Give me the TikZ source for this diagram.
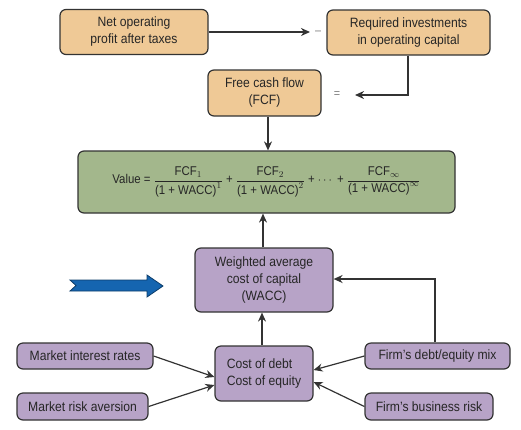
\documentclass[tikz,border=0pt]{standalone}
\usepackage{amsmath}
\usepackage{fontspec}
\setmainfont{Liberation Sans}[FakeStretch=0.9]
\usetikzlibrary{arrows.meta}
\definecolor{tan}{HTML}{EFC996}
\definecolor{sage}{HTML}{A3B78C}
\definecolor{lilac}{HTML}{B7A3C7}
\definecolor{edge}{HTML}{333333}
\definecolor{navy}{HTML}{1565B0}
\begin{document}
\begin{tikzpicture}[x=1pt,y=-1pt,
  box/.style={draw=edge,line width=1.2pt,rounded corners=6pt,align=center,
    inner sep=0pt,text=black!85,font=\fontsize{13.5}{17}\selectfont},
  flow/.style={draw=edge,line width=1.2pt,-{Stealth[length=9pt,width=8pt]}},
  sign/.style={inner sep=0pt,font=\fontsize{12}{13}\selectfont,text=gray}]
\useasboundingbox (0,0) rectangle (521,429);
% top row
\node[box,fill=tan,minimum width=148pt,minimum height=45pt] (nopat) at (134,32) {Net operating\\profit after taxes};
\node[box,fill=tan,minimum width=163pt,minimum height=45pt] (invest) at (408.5,32.5) {Required investments\\in operating capital};
\node[sign] (minus) at (318,33) {–};
\coordinate (minusin) at (310,32);
\node[box,fill=tan,minimum width=113pt,minimum height=46pt] (fcf) at (264.5,93) {Free cash flow\\(FCF)};
\node[sign] (equals) at (337,95) {=};
\coordinate (equalsin) at (355,95);
% value
\node[box,fill=sage,minimum width=377pt,minimum height=62pt,font=\fontsize{12.7}{16}\selectfont] (value) at (266.5,182)
  {Value = $\dfrac{\mbox{FCF}_1}{\mbox{(1 + WACC)}^1}$ + $\dfrac{\mbox{FCF}_2}{\mbox{(1 + WACC)}^2}$ + $\cdots$ + $\dfrac{\mbox{FCF}_\infty}{\mbox{(1 + WACC)}^\infty}$};
% wacc and inputs
\node[box,fill=lilac,minimum width=138pt,minimum height=64pt] (wacc) at (264,280) {Weighted average\\cost of capital\\(WACC)};
\node[box,fill=lilac,minimum width=98pt,minimum height=55pt,align=left] (cost) at (264,373.5) {Cost of debt\\Cost of equity};
\node[box,fill=lilac,minimum width=136pt,minimum height=26pt] (rates) at (85,356) {Market interest rates};
\node[box,fill=lilac,minimum width=131pt,minimum height=27pt] (aversion) at (82.5,406.5) {Market risk aversion};
\node[box,fill=lilac,minimum width=145pt,minimum height=26pt] (mix) at (437.5,356) {Firm’s debt/equity mix};
\node[box,fill=lilac,minimum width=128pt,minimum height=27pt] (risk) at (429,406.5) {Firm’s business risk};
% blue arrow
\filldraw[fill=navy,draw=navy!60!black,line width=0.8pt] (70,280) -- (147,280) -- (147,275) -- (163,286)
  -- (147,297) -- (147,291) -- (70,291) -- (76,285.5) -- cycle;
% connectors
\draw[flow,line width=1.8pt] (nopat.east |- minusin) -- (minusin);
\draw[flow,line width=1.8pt] (invest.south -| 408,0) |- (equalsin);
\draw[flow] (fcf.south -| 268,0) -- (value.north -| 268,0);
\draw[flow] (wacc.north -| 263,0) -- (value.south -| 263,0);
\draw[flow] (cost.north -| 262,0) -- (wacc.south -| 262,0);
\draw[flow] (rates.east) -- (cost.west |- 0,377);
\draw[flow] (aversion.east) -- (cost.west |- 0,385);
\draw[flow] (mix.west) -- (cost.east |- 0,370);
\draw[flow] (risk.west) -- (cost.east |- 0,382);
\draw[flow,line width=1.8pt] (mix.north -| 435,0) |- (wacc.east |- 0,279);
\end{tikzpicture}
\end{document}
